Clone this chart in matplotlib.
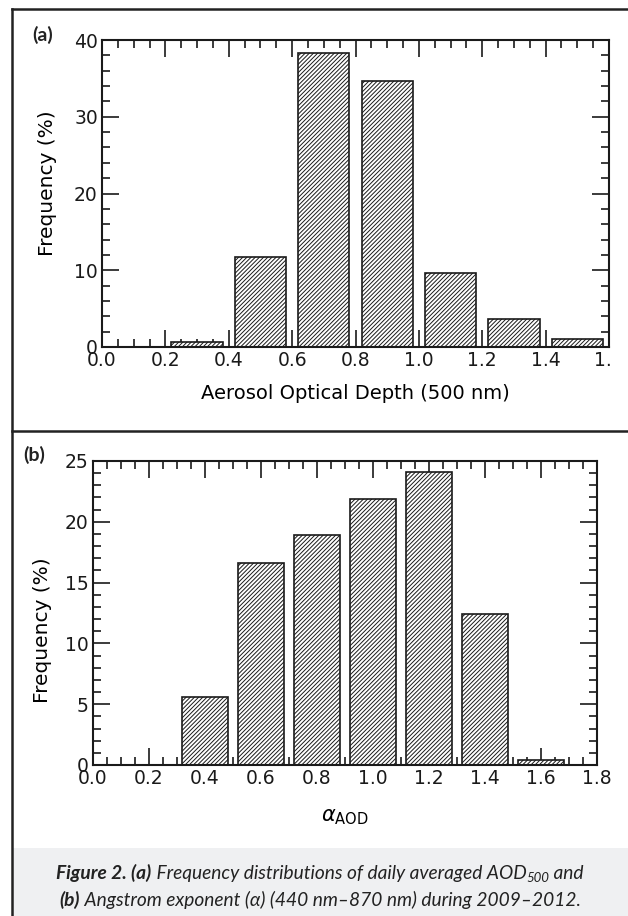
"""Frequency histograms of daily AOD500 and Angstrom exponent (Figure 2)."""

import matplotlib

matplotlib.use("Agg")
import matplotlib.pyplot as plt
from matplotlib.lines import Line2D
from matplotlib.patches import Rectangle
from matplotlib.ticker import MultipleLocator
from matplotlib.transforms import Bbox, TransformedBbox

W, H = 628, 916

# panel (a): aerosol optical depth at 500 nm
aod_centers = [0.3, 0.5, 0.7, 0.9, 1.1, 1.3, 1.5]
aod_freq = [0.7, 11.7, 38.3, 34.7, 9.7, 3.6, 1.0]
aod_ticks = [0.0, 0.2, 0.4, 0.6, 0.8, 1.0, 1.2, 1.4, 1.6]
aod_labels = ["0.0", "0.2", "0.4", "0.6", "0.8", "1.0", "1.2", "1.4", "1.6"]

# panel (b): Angstrom exponent
alpha_centers = [0.4, 0.6, 0.8, 1.0, 1.2, 1.4, 1.6]
alpha_freq = [5.6, 16.6, 18.9, 21.9, 24.1, 12.4, 0.4]
alpha_ticks = [0.0, 0.2, 0.4, 0.6, 0.8, 1.0, 1.2, 1.4, 1.6, 1.8]
alpha_labels = ["0.0", "0.2", "0.4", "0.6", "0.8", "1.0", "1.2", "1.4", "1.6", "1.8"]

INK = "#1a1a1a"
CAPTION_BG = "#eff0f2"
CAPTION_FONT = ["Lato", "DejaVu Sans"]

plt.rcParams["font.family"] = ["DejaVu Sans"]
plt.rcParams["hatch.linewidth"] = 0.7
plt.rcParams["mathtext.fontset"] = "dejavusans"


def fx(x):
    return x / W


def fy(y):
    return 1 - y / H


def style_axes(ax, xmax, ymax, ymajor, yminor, ticks, labels):
    ax.set_xlim(0, xmax)
    ax.set_ylim(0, ymax)
    ax.set_xticks(ticks)
    ax.set_xticklabels(labels)
    ax.xaxis.set_minor_locator(MultipleLocator(0.05))
    ax.yaxis.set_major_locator(MultipleLocator(ymajor))
    ax.yaxis.set_minor_locator(MultipleLocator(yminor))
    ax.tick_params(which="both", direction="in", top=True, right=True,
                   colors=INK, labelsize=13.5)
    ax.tick_params(axis="x", pad=3)
    ax.tick_params(axis="y", pad=3)
    ax.tick_params(which="major", length=12.5, width=1.2)
    ax.tick_params(which="minor", length=6, width=1.2)
    for spine in ax.spines.values():
        spine.set_linewidth(1.5)
        spine.set_color(INK)


def draw_bars(ax, centers, freq):
    ax.bar(centers, freq, width=0.162, color="white", edgecolor=INK,
           linewidth=1.2, hatch="////////", zorder=2)


def draw_runs(fig, runs, y, renderer):
    """Place differently styled text pieces on one line, centred in the caption box."""
    texts = []
    for text, style, dy, size in runs:
        weight = "bold" if "bold" in style else "normal"
        t = fig.text(0, 0, text, fontsize=size, fontweight=weight, fontstyle="italic",
                     family=CAPTION_FONT, color="#222222", ha="left", va="baseline")
        texts.append((t, dy))
    widths = [t.get_window_extent(renderer).width for t, _ in texts]
    x = (12 + W) / 2 - sum(widths) / 2
    for (t, dy), w in zip(texts, widths):
        t.set_position((fx(x), fy(y + dy)))
        x += w


fig = plt.figure(figsize=(W / 100, H / 100), dpi=100)

# frame around the figure and caption area
fig.add_artist(Rectangle((fx(12), 0), 1 - fx(12), fy(848), transform=fig.transFigure,
                         facecolor=CAPTION_BG, edgecolor="none", zorder=0))
frame = dict(color="#222222", linewidth=1.8, transform=fig.transFigure)
fig.add_artist(Line2D([fx(12), fx(12)], [0, fy(9)], **frame))
fig.add_artist(Line2D([fx(12), 1], [fy(9), fy(9)], **frame))
fig.add_artist(Line2D([fx(12), 1], [fy(431), fy(431)], **frame))

# panel (a)
ax_a = fig.add_axes([fx(102), fy(347), (609 - 102) / W, (347 - 40) / H])
draw_bars(ax_a, aod_centers, aod_freq)
style_axes(ax_a, 1.6, 40, 10, 2, aod_ticks, aod_labels)
ax_a.set_xlabel("Aerosol Optical Depth (500 nm)", fontsize=14)
ax_a.xaxis.set_label_coords(0.5, (347 - 384) / 307)
ax_a.set_ylabel("Frequency (%)", fontsize=14.5, va="center")
ax_a.yaxis.set_label_coords((48 - 102) / 507, (347 - 183) / 307)
fig.text(fx(43), fy(35), "(a)", fontsize=14, fontweight="bold",
         family=CAPTION_FONT, ha="center", va="center", color="#222222")

# the original crop cuts the last tick label of panel (a)
cut = TransformedBbox(Bbox([[0, 0], [613 / W, 1]]), fig.transFigure)
for label in ax_a.get_xticklabels():
    label.set_clip_on(True)
    label.set_clip_box(cut)

# panel (b)
ax_b = fig.add_axes([fx(93), fy(765), (597 - 93) / W, (765 - 461) / H])
draw_bars(ax_b, alpha_centers, alpha_freq)
style_axes(ax_b, 1.8, 25, 5, 1, alpha_ticks, alpha_labels)
ax_b.set_xlabel(r"$\alpha_{\mathrm{AOD}}$", fontsize=15)
ax_b.xaxis.set_label_coords(0.5, (765 - 807) / 304)
ax_b.set_ylabel("Frequency (%)", fontsize=14.5, va="center")
ax_b.yaxis.set_label_coords((43 - 93) / 504, (765 - 630) / 304)
fig.text(fx(34), fy(455), "(b)", fontsize=14, fontweight="bold",
         family=CAPTION_FONT, ha="center", va="center", color="#222222")

# caption
renderer = fig.canvas.get_renderer()
draw_runs(fig, [("Figure 2. (a)", "bold", 0, 13.8),
                (" Frequency distributions of daily averaged AOD", "", 0, 13.8),
                ("500", "", 3, 9.5),
                (" and", "", 0, 13.8)], 879, renderer)
draw_runs(fig, [("(b)", "bold", 0, 13.8),
                (" Angstrom exponent (α) (440 nm–870 nm) during 2009–2012.", "", 0, 13.8)],
          906, renderer)

fig.savefig("out.png", dpi=100)
